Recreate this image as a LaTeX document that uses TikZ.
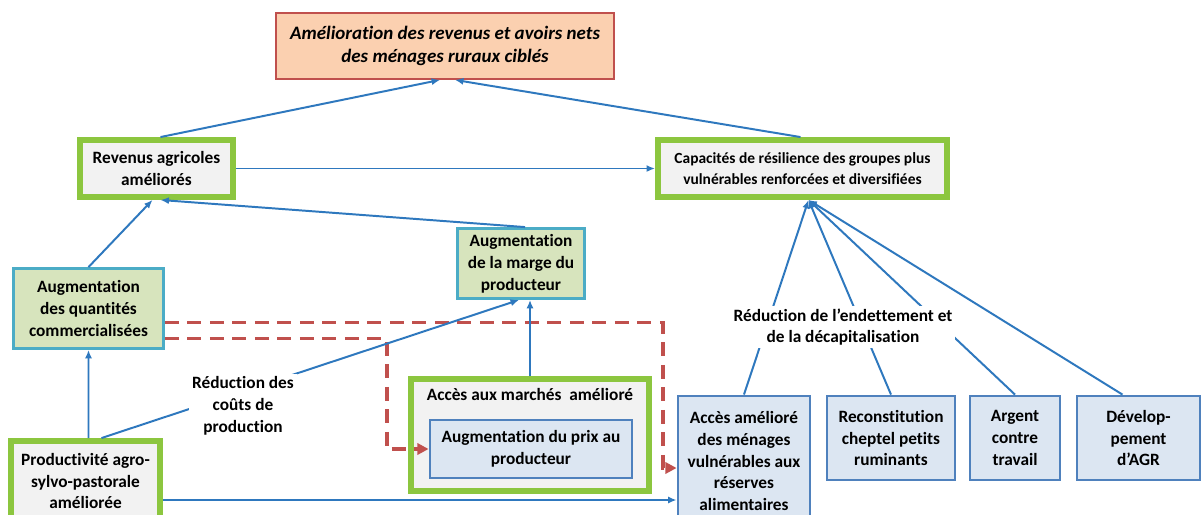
\documentclass[tikz,border=0pt]{standalone}
\usepackage{fontspec}
\setmainfont{Carlito}[Ligatures=NoCommon]
\usetikzlibrary{positioning,arrows.meta}
\definecolor{vertbord}{HTML}{8CC63F}
\definecolor{grisfond}{HTML}{F2F2F2}
\definecolor{olivefond}{HTML}{D7E4BD}
\definecolor{turqbord}{HTML}{4BACC6}
\definecolor{bleufond}{HTML}{DCE6F2}
\definecolor{bleubord}{HTML}{4F81BD}
\definecolor{pechefond}{HTML}{FBD0B0}
\definecolor{rougebord}{HTML}{C0504D}
\definecolor{fleche}{HTML}{2E78BE}

\begin{document}
\begin{tikzpicture}[x=0.025cm,y=-0.025cm,
	font=\bfseries\fontsize{12.3}{15.5}\selectfont,
	titlebox/.style={draw=rougebord,line width=1.3pt,fill=pechefond,align=center,inner sep=0pt,
		font=\bfseries\itshape\fontsize{13.5}{16.5}\selectfont},
	greenbox/.style={draw=vertbord,line width=4.2pt,fill=grisfond,align=center,inner sep=0pt},
	olivebox/.style={draw=turqbord,line width=2pt,fill=olivefond,align=center,inner sep=0pt},
	bluebox/.style={draw=bleubord,line width=2pt,fill=bleufond,align=center,inner sep=0pt},
	link/.style={draw=fleche,line width=1.4pt,-{Latex[length=6pt,width=5pt]}},
	dashlink/.style={draw=rougebord,line width=2.8pt,dash pattern=on 10pt off 6pt,
		-{Triangle[length=8pt,width=8pt]}},
	lbl/.style={fill=white,align=center,inner sep=2pt}]
	\path[use as bounding box,fill=white] (0,0) rectangle (1204,514);
	%% top
	\node[titlebox,minimum width=8.45cm,minimum height=1.65cm] (obj) at (445,46)
		{Amélioration des revenus et avoirs nets\\des ménages ruraux ciblés};
	%% second level
	\node[greenbox,minimum width=3.825cm,minimum height=1.425cm] (rev) at (156.5,168.5)
		{Revenus agricoles\\améliorés};
	\node[greenbox,minimum width=7.225cm,minimum height=1.425cm,
		font=\bfseries\fontsize{11}{15}\selectfont] (cap) at (802.5,168.5)
		{Capacités de résilience des groupes plus\\vulnérables renforcées et diversifiées};
	%% left side
	\node[olivebox,minimum width=3.75cm,minimum height=2cm] (qty) at (88.5,308.5)
		{Augmentation\\des quantités\\commercialisées};
	\node[olivebox,minimum width=3.175cm,minimum height=1.75cm] (marge) at (521,263.5)
		{Augmentation\\de la marge du\\producteur};
	\node[greenbox,minimum width=3.725cm,minimum height=2cm] (prod) at (85.5,481)
		{Productivité agro-\\sylvo-pastorale\\améliorée};
	\node[greenbox,minimum width=5.95cm,minimum height=2.8cm] (mkt) at (530,435) {};
	\node (mkttitle) at (530,394) {Accès aux marchés\ \ amélioré};
	\node[bluebox,minimum width=5.05cm,minimum height=1.45cm] (prix) at (531,449)
		{Augmentation du prix au\\producteur};
	%% right side
	\node[bluebox,minimum width=3.3cm,minimum height=3.25cm] (acc) at (744,461)
		{Accès amélioré\\des ménages\\vulnérables aux\\réserves\\alimentaires};
	\node[bluebox,minimum width=3.2cm,minimum height=2.1cm] (recon) at (891,438)
		{Reconstitution\\cheptel petits\\ruminants};
	\node[bluebox,minimum width=2.25cm,minimum height=2.1cm] (argent) at (1015,438)
		{Argent\\contre\\travail};
	\node[bluebox,minimum width=3.075cm,minimum height=2.1cm] (devel) at (1138.5,438)
		{Dévelop-\\pement\\d'AGR};
	% liens en pointillés
	\coordinate (d1) at ([yshift=-0.175cm]acc.west);
	\draw[dashlink] ([yshift=-0.35cm]qty.east) -| ([xshift=-0.35cm]d1) -- (d1);
	\draw[dashlink] ([yshift=-0.75cm]qty.east) -| ([xshift=-1.05cm]prix.west) -- (prix.west);
	% liens
	\draw[link] ([xshift=0.1cm]rev.north) -- ([xshift=-0.125cm]obj.south);
	\draw[link] ([xshift=-0.05cm]cap.north) -- ([xshift=0.25cm]obj.south);
	\draw[link] (rev.east) -- (cap.west);
	\draw[link] ([xshift=0.1cm]marge.north) -- ([xshift=0.1cm]rev.south);
	\draw[link] (qty.north) -- ([xshift=-0.1cm]rev.south);
	\draw[link] ([xshift=0.075cm]prod.north) -- (qty.south);
	\draw[link] ([xshift=0.4cm]prod.north) -- ([xshift=-0.05cm]marge.south);
	\draw[link] (mkt.north) -- (mkt.north |- marge.south);
	\draw[link] ([yshift=-0.475cm]prod.east) coordinate (p1) -- (p1 -| acc.west);
	\coordinate (capin) at ([xshift=0.15cm]cap.south);
	\draw[link] (acc.north) -- (capin);
	\draw[link] (recon.north) -- (capin);
	\draw[link] (argent.north) -- (capin);
	\draw[link] ([xshift=-0.4cm]devel.north) -- (capin);
	% étiquettes
	\node[lbl] (redcout) at (243,406) {Réduction des\\coûts de\\production};
	\node[lbl] (redendet) at (843,327) {Réduction de l'endettement et\\de la décapitalisation};
\end{tikzpicture}
\end{document}
